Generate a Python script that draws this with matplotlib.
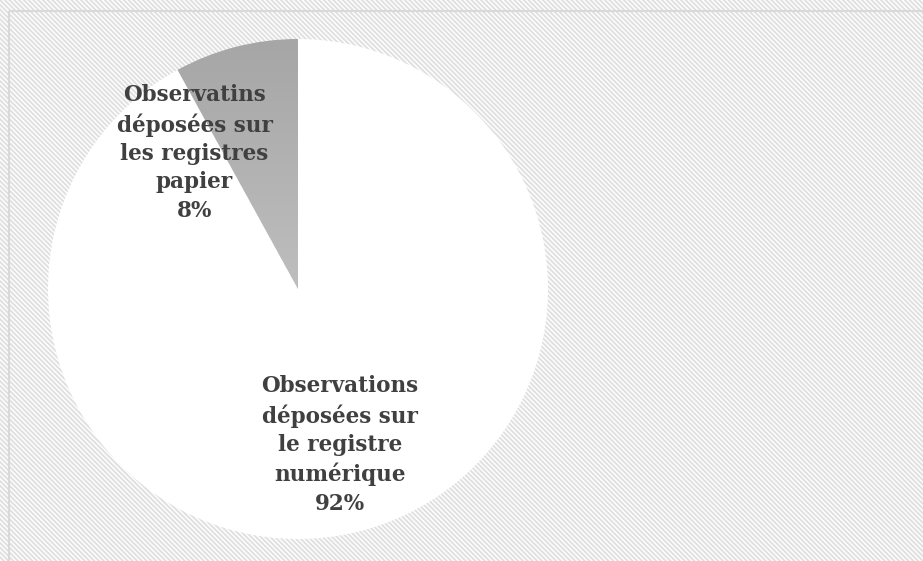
import matplotlib
matplotlib.use("Agg")
import matplotlib.pyplot as plt
import numpy as np
from matplotlib.patches import Rectangle
from matplotlib.colors import LinearSegmentedColormap

labels = ["Observatins\ndéposées sur\nles registres\npapier", "Observations\ndéposées sur\nle registre\nnumérique"]
values = [8, 92]
label_pos = [(-0.414, 0.544), (0.168, -0.624)]

W, H = 923, 561
plt.rcParams['hatch.color'] = '#e0e0e0'
plt.rcParams['hatch.linewidth'] = 1.4
fig = plt.figure(figsize=(W/100, H/100), dpi=100)
fig.patch.set_facecolor("white")

bgax = fig.add_axes([0, 0, 1, 1], zorder=-5)
bgax.set_xlim(0, W); bgax.set_ylim(H, 0)
bgax.axis("off")
bgax.add_patch(Rectangle((0, 0), W, H, facecolor="white", edgecolor="#e0e0e0",
                         hatch="\\" * 7, linewidth=0, antialiased=False))
bgax.add_patch(Rectangle((9, 11), W + 20, H + 20, facecolor="none",
                         edgecolor="#d9d9d9", linewidth=1.5))

cx, cy, R = 298, 289, 250
ax = fig.add_axes([(cx-R)/W, 1-(cy+R)/H, 2*R/W, 2*R/H], zorder=1)
ax.set_facecolor("none")
wedges, _ = ax.pie(values, startangle=90, counterclock=True,
                   colors=["none", "white"], wedgeprops=dict(linewidth=0))
ax.set_xlim(-1, 1); ax.set_ylim(-1, 1)
ax.set_aspect("equal")
ax.axis("off")

grad = np.linspace(0, 1, 256).reshape(-1, 1)
cmap = LinearSegmentedColormap.from_list("g", ["#a6a6a6", "#d6d6d6"])
im = ax.imshow(grad, extent=[-1, 1, -1, 1], cmap=cmap, origin="upper",
               aspect="auto", zorder=1)
im.set_clip_path(wedges[0])
ax.set_xlim(-1, 1); ax.set_ylim(-1, 1)

tot = sum(values)
for lab, v, (x, y) in zip(labels, values, label_pos):
    ax.text(x, y, f"{lab}\n{round(100*v/tot)}%", ha="center", va="center",
            fontsize=15.5, fontweight="bold", family="DejaVu Serif",
            color="#404040", linespacing=1.37, zorder=3)

fig.savefig("out.png", dpi=100)
